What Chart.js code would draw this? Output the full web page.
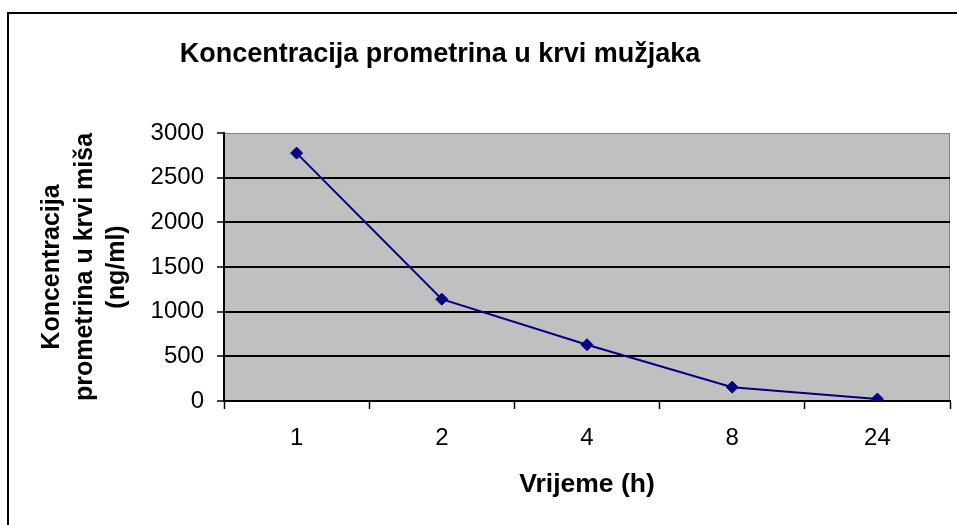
<!DOCTYPE html>
<html>
<head>
<meta charset="utf-8">
<script src="https://cdn.jsdelivr.net/npm/chart.js@4.4.0/dist/chart.umd.min.js"></script>
<style>
  html, body { margin: 0; padding: 0; background: #fff; }
  #wrap { width: 957px; height: 525px; position: relative; }
</style>
</head>
<body>
<div id="wrap"><canvas id="chart" width="957" height="525"></canvas></div>
<script>
// data
const timeLabels = ['1', '2', '4', '8', '24'];
const concentration = [2775, 1140, 630, 155, 22];
const yTicks = [0, 500, 1000, 1500, 2000, 2500, 3000];

const chartTitle = 'Koncentracija prometrina u krvi mužjaka';
const yTitle = ['Koncentracija', 'prometrina u krvi miša', '(ng/ml)'];
const xTitle = 'Vrijeme (h)';

const FONT = 'Arial, "Liberation Sans", sans-serif';

// gray plot area, frame and the chart title
const excelLook = {
    id: 'excelLook',
    beforeDraw(chart) {
        const { ctx, chartArea: a } = chart;
        ctx.save();
        ctx.fillStyle = '#fff';
        ctx.fillRect(0, 0, chart.width, chart.height);
        ctx.strokeStyle = '#000';
        ctx.lineWidth = 2;
        ctx.strokeRect(8, 13, 1200, 800);
        ctx.fillStyle = '#c0c0c0';
        ctx.fillRect(a.left, a.top, a.right - a.left, a.bottom - a.top);
        ctx.strokeStyle = '#808080';
        ctx.lineWidth = 1;
        ctx.strokeRect(a.left + 0.5, a.top + 0.5, a.right - a.left - 1, a.bottom - a.top - 1);
        ctx.fillStyle = '#000';
        ctx.font = 'bold 27px ' + FONT;
        ctx.textAlign = 'center';
        ctx.textBaseline = 'middle';
        ctx.fillText(chartTitle, 440, 55);
        ctx.restore();
    }
};

new Chart(document.getElementById('chart'), {
    type: 'line',
    data: {
        labels: timeLabels,
        datasets: [{
            data: concentration,
            borderColor: '#000080',
            backgroundColor: '#000080',
            borderWidth: 2,
            pointStyle: 'rectRot',
            pointRadius: 6,
            pointBorderWidth: 1,
            tension: 0
        }]
    },
    options: {
        responsive: false,
        animation: false,
        layout: { padding: { left: 0, right: 7, top: 133, bottom: 0 } },
        plugins: {
            legend: { display: false },
            tooltip: { enabled: false }
        },
        scales: {
            x: {
                offset: true,
                afterFit(scale) { scale.height = 124; },
                grid: {
                    offset: true,
                    drawOnChartArea: false,
                    drawTicks: true,
                    tickLength: 8,
                    tickColor: '#000',
                    tickWidth: 1.5
                },
                border: { color: '#000', width: 2 },
                ticks: {
                    color: '#000',
                    font: { family: FONT, size: 24 },
                    padding: 15
                },
                title: {
                    display: true,
                    text: xTitle,
                    color: '#000',
                    font: { family: FONT, size: 26.5, weight: 'bold', lineHeight: 1.2 },
                    padding: { top: 0, bottom: 24 }
                }
            },
            y: {
                min: 0,
                max: 3000,
                afterFit(scale) { scale.width = 224; },
                afterBuildTicks(scale) { scale.ticks = yTicks.map(v => ({ value: v })); },
                grid: {
                    color: ctx => ctx.tick && ctx.tick.value === 3000 ? 'rgba(0,0,0,0)' : '#000',
                    lineWidth: 2,
                    tickLength: 7,
                    tickColor: '#000',
                    tickWidth: 1.5
                },
                border: { color: '#000', width: 2 },
                ticks: {
                    color: '#000',
                    font: { family: FONT, size: 24 },
                    padding: 13,
                    callback: v => String(v)
                },
                title: {
                    display: true,
                    text: yTitle,
                    color: '#000',
                    font: { family: FONT, size: 25, weight: 'bold', lineHeight: 1.3 },
                    padding: { top: 36, bottom: 0 }
                }
            }
        }
    },
    plugins: [excelLook]
});
</script>
</body>
</html>
